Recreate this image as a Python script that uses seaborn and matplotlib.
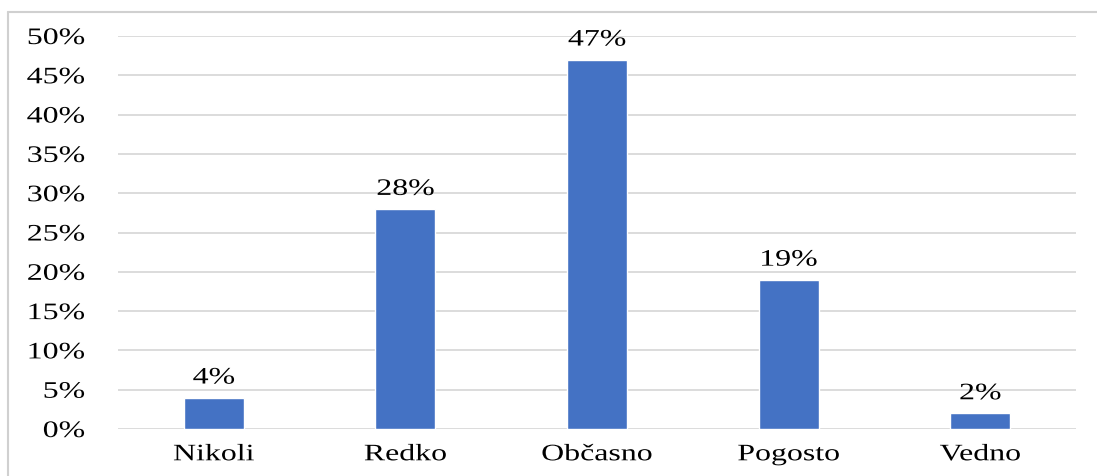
import matplotlib
matplotlib.use("Agg")
import matplotlib.pyplot as plt
import seaborn as sns
import pandas as pd
from matplotlib.lines import Line2D
from matplotlib.patheffects import AbstractPathEffect
from matplotlib.transforms import Affine2D

categories = ["Nikoli", "Redko", "Občasno", "Pogosto", "Vedno"]
values = [4, 28, 47, 19, 2]
yticks = [0, 5, 10, 15, 20, 25, 30, 35, 40, 45, 50]


class HStretch(AbstractPathEffect):
    """Widen glyphs horizontally around the centre or right edge of the string."""

    def __init__(self, sx=1.35, anchor="center"):
        super().__init__()
        self.sx = sx
        self.anchor = anchor

    def draw_path(self, renderer, gc, tpath, affine, rgbFace=None):
        ext = tpath.get_extents()
        cx = ext.x1 if self.anchor == "right" else 0.5 * (ext.x0 + ext.x1)
        aff = Affine2D().translate(-cx, 0).scale(self.sx, 1).translate(cx, 0) + affine
        renderer.draw_path(gc, tpath, aff, rgbFace)


sns.set_theme(style="white")
plt.rcParams["font.family"] = ["Liberation Serif", "DejaVu Serif"]

df = pd.DataFrame({"cat": categories, "val": values})

fw, fh = 1097, 476
fig = plt.figure(figsize=(fw / 100, fh / 100), dpi=100)
ax = fig.add_axes([118 / fw, 1 - 429 / fh, (1076 - 118) / fw, (429 - 36) / fh])

sns.barplot(data=df, x="cat", y="val", color="#4472C4", saturation=1,
            width=0.313, ax=ax, zorder=3)

FS = 17
SX = 1.35

ax.set_ylim(0, 50)
ax.set_yticks(yticks)
ax.set_yticklabels([f"{t}%" for t in yticks], fontsize=FS, color="black")
ax.tick_params(axis="y", length=0, pad=24)
ax.tick_params(axis="x", length=0, pad=11, labelsize=FS, labelcolor="black")
ax.set_xlabel("")
ax.set_ylabel("")
ax.grid(axis="y", color="#D9D9D9", linewidth=1.3, zorder=0)
for s in ax.spines.values():
    s.set_visible(False)

for lbl in ax.get_yticklabels():
    lbl.set_path_effects([HStretch(SX, "right")])
for lbl in ax.get_xticklabels():
    lbl.set_path_effects([HStretch(SX, "center")])

for cont in ax.containers:
    texts = ax.bar_label(cont, labels=[f"{v}%" for v in values], padding=6.5,
                         fontsize=FS, color="black")
    for t in texts:
        t.set_path_effects([HStretch(SX, "center")])

# outer frame (left and top edges)
fig.add_artist(Line2D([8 / fw, 8 / fw], [0, 1 - 12 / fh], transform=fig.transFigure,
                      color="#D0D0D0", linewidth=1.5))
fig.add_artist(Line2D([8 / fw, 1], [1 - 12 / fh, 1 - 12 / fh], transform=fig.transFigure,
                      color="#D0D0D0", linewidth=1.5))

fig.savefig("out.png", dpi=100)
